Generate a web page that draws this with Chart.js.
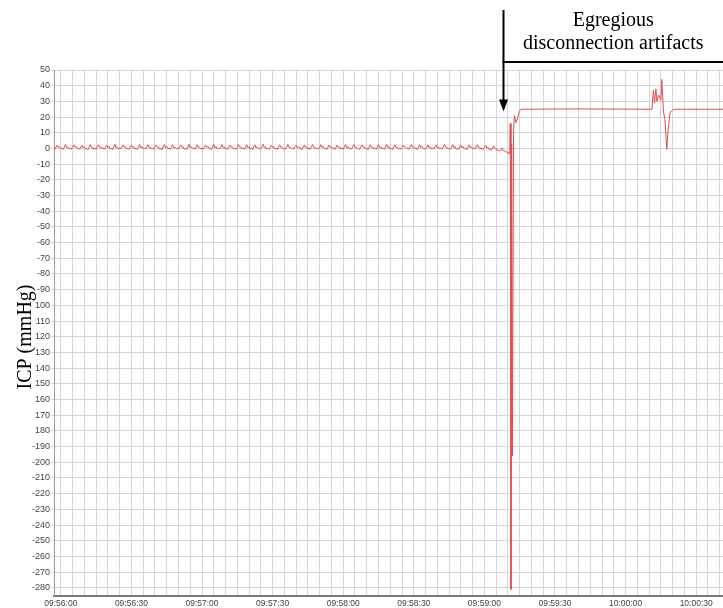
<!DOCTYPE html>
<html>
<head>
<meta charset="utf-8">
<script src="https://cdn.jsdelivr.net/npm/chart.js@4/dist/chart.umd.min.js"></script>
<style>
  html, body { margin: 0; padding: 0; background: #ffffff; }
  #wrap { width: 723px; height: 608px; position: relative; }
</style>
</head>
<body>
<div id="wrap"><canvas id="icpChart" width="723" height="608"></canvas></div>
<script>
// Time axis: seconds after 09:56:00
const timeLabels = ['09:56:00', '09:56:30', '09:57:00', '09:57:30', '09:58:00',
                    '09:58:30', '09:59:00', '09:59:30', '10:00:00', '10:00:30'];
const icpTicks = [50, 40, 30, 20, 10, 0, -10, -20, -30, -40, -50, -60, -70, -80, -90,
                  -100, -110, -120, -130, -140, -150, -160, -170, -180, -190, -200,
                  -210, -220, -230, -240, -250, -260, -270, -280];

// Pulsatile baseline ICP (mmHg), sampled every 0.5 s from 09:55:57
const baselineStart = -3;
const baselineStep = 0.5;
const baselineIcp = [
  0.3,-0.5,0.9,2.2,0.4,1.1,-0.2,0.1,-0.7,1.0,2.6,0.5,0.9,-0.4,
  0.2,-0.6,0.7,2.3,0.8,1.2,-0.1,0.3,-0.5,1.1,2.0,0.3,1.0,-0.3,
  0.0,-0.8,0.8,2.5,0.6,0.9,-0.5,0.2,-0.4,1.3,2.4,0.7,1.1,-0.2,
  0.4,-0.6,0.6,2.1,0.5,1.3,-0.3,0.1,-0.7,0.9,2.7,0.4,0.8,-0.5,
  0.3,-0.4,1.0,2.3,0.6,1.0,-0.2,0.0,-0.6,1.2,2.2,0.5,1.1,-0.4,
  0.2,-0.7,0.8,2.6,0.3,1.2,-0.1,0.3,-0.5,0.8,2.4,0.6,0.9,-0.3,
  0.1,-0.5,1.1,2.2,0.7,1.0,-0.4,0.2,-0.8,1.0,2.5,0.4,1.2,-0.2,
  0.3,-0.6,0.7,2.4,0.5,0.8,-0.3,0.1,-0.4,1.1,2.1,0.7,1.0,-0.5,
  0.0,-0.7,0.9,2.6,0.4,1.1,-0.2,0.3,-0.6,0.9,2.3,0.5,0.8,-0.4,
  0.2,-0.5,1.0,2.2,0.6,1.3,-0.1,0.0,-0.7,1.2,2.6,0.3,1.1,-0.3,
  0.4,-0.4,0.8,2.4,0.5,0.9,-0.5,0.2,-0.5,1.0,2.2,0.6,0.9,-0.2,
  0.1,-0.6,0.7,2.5,0.8,1.1,-0.3,0.3,-0.6,0.8,2.4,0.4,1.2,-0.4,
  0.3,-0.8,1.1,2.3,0.4,1.0,-0.2,0.1,-0.4,1.1,2.7,0.5,1.0,-0.3,
  0.0,-0.5,0.9,2.1,0.6,1.2,-0.4,0.2,-0.7,0.9,2.3,0.7,0.8,-0.5,
  0.2,-0.6,0.8,2.6,0.5,0.9,-0.1,0.0,-0.5,1.2,2.1,0.4,1.1,-0.2,
  0.4,-0.7,1.0,2.3,0.3,1.1,-0.3,0.3,-0.6,1.0,2.5,0.6,0.9,-0.4,
  0.1,-0.4,0.7,2.4,0.7,1.3,-0.2,0.1,-0.8,0.8,2.2,0.5,1.0,-0.3,
  0.3,-0.6,0.9,2.2,0.5,1.0,-0.5,0.2,-0.4,1.1,2.6,0.3,1.2,-0.1,
  0.0,-0.5,1.1,2.5,0.6,0.8,-0.3,0.0,-0.6,1.3,2.3,0.7,0.9,-0.4,
  0.2,-0.8,0.8,2.3,0.4,1.2,-0.2,0.3,-0.5,0.9,2.4,0.5,1.1,-0.3,
  0.3,-0.4,1.0,2.6,0.6,1.1,-0.4,0.1,-0.7,1.0,2.2,0.4,0.8,-0.5,
  0.1,-0.6,0.7,2.1,0.8,0.9,-0.1,0.2,-0.5,1.2,2.5,0.6,1.0,-0.2,
  0.4,-0.7,0.9,2.4,0.5,1.3,-0.3,0.0,-0.6,0.8,2.3,0.5,1.1,-0.4,
  0.2,-0.5,1.1,2.2,0.3,1.0,-0.2,0.3,-0.4,1.1,2.6,0.7,0.9,-0.3,
  0.0,-0.6,0.8,2.5,0.6,1.2,-0.5,0.1,-0.7,1.0,2.1,0.4,1.2,-0.2,
  0.3,-0.8,0.9,2.3,0.4,1.1,-0.3,0.2,-0.5,0.9,2.4,0.6,0.8,-0.4,
  0.1,-0.7,0.6,2.0,0.2,0.7,-0.7,-0.3,-1.1,0.4,1.6,-0.3,0.1,-1.2,
  -1.0,-1.7,-0.8,0.4,-1.5,-1.2,-2.4,-2.0,-3.1,-2.6
];

// Disconnection artifacts: time (s after 09:56:00) and ICP (mmHg)
const artifactTimes = [190.8, 191.0, 191.3, 191.6, 191.9, 192.4, 192.8, 193.4, 194.0, 194.8, 195.6,
                       220.0, 251.2, 251.8, 252.3, 252.9, 253.3, 254.1, 255.0, 255.4, 256.1,
                       256.7, 257.5, 258.2, 258.9, 260.0, 261.0, 282.0];
const artifactIcp   = [-3.2, 16, -281, 3, -196, 12, 21, 16.5, 19, 23.5, 25,
                       25.2, 25, 37, 29, 38, 30, 34, 31, 44, 23,
                       19, -0.5, 14, 23, 24.5, 25, 25];

// Annotation anchor (time of the arrow, s after 09:56:00)
const arrowTime = 188.1;
const arrowTipIcp = 23.5;

const points = baselineIcp.map((v, i) => ({ x: baselineStart + i * baselineStep, y: v }))
  .concat(artifactTimes.map((t, i) => ({ x: t, y: artifactIcp[i] })));

const gridSeconds = [];
for (let s = 0; s <= 280; s += 5) gridSeconds.push(s);

const annotationPlugin = {
  id: 'disconnectionNote',
  afterDraw(chart) {
    const ctx = chart.ctx;
    const xs = chart.scales.x, ys = chart.scales.y;
    const ax = Math.round(xs.getPixelForValue(arrowTime)) + 0.5;
    const tipY = ys.getPixelForValue(arrowTipIcp);
    const W = chart.width;
    ctx.save();
    // vertical arrow with bracket line to the right
    ctx.strokeStyle = '#000';
    ctx.fillStyle = '#000';
    ctx.lineWidth = 2;
    ctx.beginPath();
    ctx.moveTo(ax, 10);
    ctx.lineTo(ax, tipY - 10);
    ctx.stroke();
    ctx.beginPath();
    ctx.moveTo(ax - 4.5, tipY - 12);
    ctx.lineTo(ax + 4.5, tipY - 12);
    ctx.lineTo(ax, tipY);
    ctx.closePath();
    ctx.fill();
    ctx.beginPath();
    ctx.moveTo(ax - 1, 62);
    ctx.lineTo(W, 62);
    ctx.stroke();
    // note text
    ctx.font = '20px "Liberation Serif", "Times New Roman", serif';
    ctx.textAlign = 'center';
    ctx.textBaseline = 'alphabetic';
    const cx = (ax + W) / 2;
    ctx.fillText('Egregious', cx, 26);
    ctx.fillText('disconnection artifacts', cx, 48.5);

    // y-axis title on a white label box
    ctx.fillStyle = '#ffffff';
    ctx.fillRect(10, 299, 25, 139);
    ctx.fillStyle = '#000';
    ctx.translate(31, 337);
    ctx.rotate(-Math.PI / 2);
    ctx.textAlign = 'center';
    ctx.fillText('ICP (mmHg)', 0, 0);
    ctx.restore();
  }
};

new Chart(document.getElementById('icpChart'), {
  type: 'line',
  data: {
    datasets: [{
      data: points,
      borderColor: 'rgb(224, 78, 78)',
      borderWidth: 1,
      pointRadius: 0,
      tension: 0,
      fill: false
    }]
  },
  options: {
    responsive: false,
    animation: false,
    parsing: false,
    normalized: true,
    layout: { padding: { top: 70, left: 0, right: 0, bottom: 0 } },
    plugins: { legend: { display: false }, tooltip: { enabled: false }, title: { display: false } },
    scales: {
      x: {
        type: 'linear',
        min: -2.9,
        max: 281.4,
        afterFit(scale) { scale.height = 12; },
        afterBuildTicks(scale) { scale.ticks = gridSeconds.map(v => ({ value: v })); },
        grid: { color: '#d6d6d6', lineWidth: 1, drawTicks: false },
        border: { color: '#7a7a7a', width: 2 },
        ticks: {
          autoSkip: false,
          maxRotation: 0,
          padding: 3,
          color: '#444',
          font: { family: '"Liberation Sans", Arial, sans-serif', size: 8.5 },
          callback(value) {
            return value % 30 === 0 && timeLabels[value / 30] !== undefined ? timeLabels[value / 30] : '';
          }
        }
      },
      y: {
        type: 'linear',
        min: -285.2,
        max: 50,
        afterFit(scale) { scale.width = 54; },
        afterBuildTicks(scale) { scale.ticks = icpTicks.map(v => ({ value: v })); },
        grid: { color: '#d6d6d6', lineWidth: 1, drawTicks: true, tickLength: 3 },
        border: { color: '#9a9a9a', width: 1 },
        ticks: {
          autoSkip: false,
          padding: 1,
          color: '#444',
          font: { family: '"Liberation Sans", Arial, sans-serif', size: 9 }
        }
      }
    }
  },
  plugins: [annotationPlugin]
});
</script>
</body>
</html>
